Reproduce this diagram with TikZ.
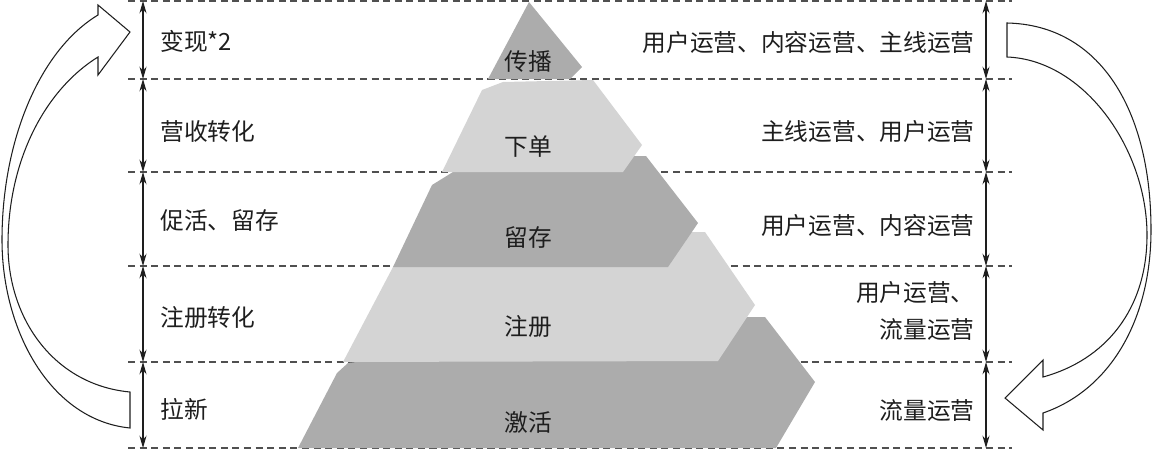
\documentclass[tikz,border=0pt]{standalone}
\usepackage{fontspec}
\setmainfont{Noto Sans CJK SC}
\usetikzlibrary{arrows.meta}
\definecolor{darkpart}{RGB}{172,172,172}
\definecolor{lightpart}{RGB}{212,212,212}
\definecolor{dashgray}{RGB}{80,80,80}
\definecolor{inkgray}{RGB}{30,30,30}

\begin{document}
\begin{tikzpicture}[x=0.02cm,y=-0.02cm,
    levelline/.style={dashgray,line width=0.6pt,dash pattern=on 4pt off 2.6pt},
    span/.style={inkgray,line width=0.6pt,{Stealth[length=7pt,width=4pt]}-{Stealth[length=7pt,width=4pt]}},
    loop/.style={inkgray,line width=0.6pt,line join=miter,fill=white},
    txt/.style={inner sep=0pt,text=inkgray,font=\fontsize{13.5pt}{21pt}\selectfont}]
          \useasboundingbox (0,0) rectangle (1152,453);

          % level lines
          \foreach \i/\y in {0/1,1/79,2/172,3/266,4/362,5/448}{
            \draw[levelline] (128,\y) -- (1012,\y);
            \coordinate (L\i) at (143,\y);
            \coordinate (R\i) at (986,\y);
          }

          % pyramid, bottom layer first
          \fill[darkpart] (298,448) -- (337,373) -- (348,363) -- (740,317) -- (765,317) -- (815,382) -- (776,448) -- cycle;
          \fill[lightpart] (343,362) -- (393,267) -- (690,232) -- (705,232) -- (755,305) -- (718,361) -- cycle;
          \fill[darkpart] (393,267) -- (432,185) -- (453,172) -- (620,156) -- (646,156) -- (698,223) -- (668,267) -- cycle;
          \fill[lightpart] (442,172) -- (482,90) -- (503,82) -- (593,80) -- (642,145) -- (623,172) -- cycle;
          \fill[darkpart] (488,79) -- (529,2) -- (582,67) -- (570,79) -- cycle;

          \node[txt] (chuanbo) at (528,62) {传播};
          \node[txt] (xiadan) at (528,147) {下单};
          \node[txt] (liucun) at (528,237) {留存};
          \node[txt] (zhuce) at (528,327) {注册};
          \node[txt] (jihuo) at (528,422) {激活};

          % spans between the levels
          \foreach \i/\j in {0/1,1/2,2/3,3/4,4/5}{
            \draw[span] (L\i) -- (L\j);
            \draw[span] (R\i) -- (R\j);
          }

          \node[txt,anchor=west] (bianxian) at (160,41) {变现*2};
          \node[txt,anchor=west] (yingshou) at (160,132) {营收转化};
          \node[txt,anchor=west] (cuhuo) at (160,221) {促活、留存};
          \node[txt,anchor=west] (zhucezh) at (160,318) {注册转化};
          \node[txt,anchor=west] (laxin) at (160,409) {拉新};

          \node[txt,anchor=east] (yy1) at (975,42) {用户运营、内容运营、主线运营};
          \node[txt,anchor=east] (yy2) at (975,131) {主线运营、用户运营};
          \node[txt,anchor=east] (yy3) at (975,225) {用户运营、内容运营};
          \node[txt,anchor=east,align=right] (yy4) at (975,311) {用户运营、\\流量运营};
          \node[txt,anchor=east] (yy5) at (975,411) {流量运营};

          % left arrow going up
          \draw[loop] (130,428) -- (130,392) .. controls (55,385) and (8,320) .. (8,245)
            .. controls (8,160) and (45,90) .. (98,57) -- (98,75) -- (130,32) -- (98,5) -- (98,15)
            .. controls (40,50) and (2,140) .. (2,240) .. controls (2,330) and (50,420) .. (130,428) -- cycle;

          % right arrow going down
          \draw[loop] (1007,23) -- (1007,57) .. controls (1085,60) and (1147,150) .. (1147,235)
            .. controls (1147,310) and (1105,360) .. (1043,377) -- (1043,360) -- (1005,398) -- (1043,430) -- (1043,413)
            .. controls (1110,390) and (1151,320) .. (1151,230) .. controls (1151,110) and (1100,25) .. (1007,23) -- cycle;
        \end{tikzpicture}
\end{document}
